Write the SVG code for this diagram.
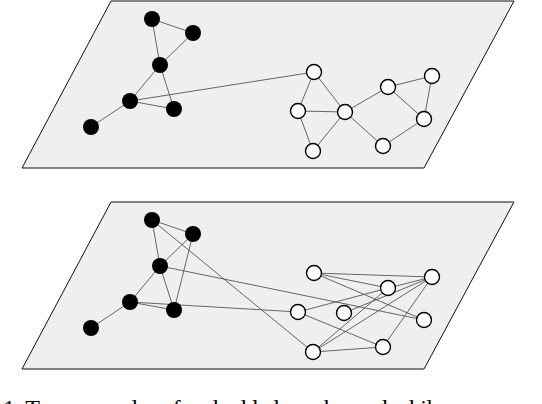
<svg xmlns="http://www.w3.org/2000/svg" width="542" height="404" viewBox="0 0 542 404">
<style>
.plane{fill:#efefef;stroke:#111;stroke-width:1}
.e{stroke:#555;stroke-width:0.9;fill:none}
.b{fill:#000}
.w{fill:#fff;stroke:#000;stroke-width:1.4}
.cap{font-family:"Liberation Serif","Times New Roman",serif;font-size:24px;fill:#000}
</style>
<g id="plane-top"><polygon class="plane" points="111,1 514,1 424,168 22,168"/></g>
<g id="plane-bottom"><polygon class="plane" points="111,202 514,202 424,369 22,369"/></g>
<g id="connectors">
<line class="e" x1="152" y1="19" x2="193" y2="33"/>
<line class="e" x1="152" y1="19" x2="160" y2="65"/>
<line class="e" x1="193" y1="33" x2="160" y2="65"/>
<line class="e" x1="160" y1="65" x2="130" y2="101"/>
<line class="e" x1="160" y1="65" x2="174" y2="109"/>
<line class="e" x1="130" y1="101" x2="174" y2="109"/>
<line class="e" x1="130" y1="101" x2="91" y2="127"/>
<line class="e" x1="130" y1="101" x2="314" y2="72"/>
<line class="e" x1="314" y1="72" x2="298" y2="111"/>
<line class="e" x1="314" y1="72" x2="345" y2="112"/>
<line class="e" x1="298" y1="111" x2="345" y2="112"/>
<line class="e" x1="298" y1="111" x2="313" y2="151"/>
<line class="e" x1="345" y1="112" x2="313" y2="151"/>
<line class="e" x1="345" y1="112" x2="388" y2="87"/>
<line class="e" x1="345" y1="112" x2="383" y2="146"/>
<line class="e" x1="388" y1="87" x2="432" y2="76"/>
<line class="e" x1="388" y1="87" x2="424" y2="119"/>
<line class="e" x1="432" y1="76" x2="424" y2="119"/>
<line class="e" x1="424" y1="119" x2="383" y2="146"/>
<line class="e" x1="152" y1="220" x2="193" y2="234"/>
<line class="e" x1="152" y1="220" x2="160" y2="266"/>
<line class="e" x1="193" y1="234" x2="160" y2="266"/>
<line class="e" x1="193" y1="234" x2="174" y2="310"/>
<line class="e" x1="160" y1="266" x2="130" y2="302"/>
<line class="e" x1="160" y1="266" x2="174" y2="310"/>
<line class="e" x1="130" y1="302" x2="174" y2="310"/>
<line class="e" x1="130" y1="302" x2="91" y2="328"/>
<line class="e" x1="152" y1="220" x2="313" y2="352"/>
<line class="e" x1="160" y1="266" x2="424" y2="320"/>
<line class="e" x1="130" y1="302" x2="298" y2="312"/>
<line class="e" x1="314" y1="273" x2="432" y2="277"/>
<line class="e" x1="314" y1="273" x2="388" y2="288"/>
<line class="e" x1="314" y1="273" x2="424" y2="320"/>
<line class="e" x1="298" y1="312" x2="388" y2="288"/>
<line class="e" x1="298" y1="312" x2="383" y2="347"/>
<line class="e" x1="344" y1="313" x2="432" y2="277"/>
<line class="e" x1="313" y1="352" x2="388" y2="288"/>
<line class="e" x1="313" y1="352" x2="432" y2="277"/>
<line class="e" x1="313" y1="352" x2="383" y2="347"/>
<line class="e" x1="388" y1="288" x2="432" y2="277"/>
<line class="e" x1="383" y1="347" x2="432" y2="277"/>
</g>
<g id="n-t1"><circle class="b" cx="152" cy="19" r="8"/></g>
<g id="n-t2"><circle class="b" cx="193" cy="33" r="8"/></g>
<g id="n-t3"><circle class="b" cx="160" cy="65" r="8"/></g>
<g id="n-t4"><circle class="b" cx="130" cy="101" r="8"/></g>
<g id="n-t5"><circle class="b" cx="174" cy="109" r="8"/></g>
<g id="n-t6"><circle class="b" cx="91" cy="127" r="8"/></g>
<g id="n-t7"><circle class="w" cx="314" cy="72" r="7.5"/></g>
<g id="n-t8"><circle class="w" cx="298" cy="111" r="7.5"/></g>
<g id="n-t9"><circle class="w" cx="345" cy="112" r="7.5"/></g>
<g id="n-t10"><circle class="w" cx="313" cy="151" r="7.5"/></g>
<g id="n-t11"><circle class="w" cx="388" cy="87" r="7.5"/></g>
<g id="n-t12"><circle class="w" cx="432" cy="76" r="7.5"/></g>
<g id="n-t13"><circle class="w" cx="424" cy="119" r="7.5"/></g>
<g id="n-t14"><circle class="w" cx="383" cy="146" r="7.5"/></g>
<g id="n-b1"><circle class="b" cx="152" cy="220" r="8"/></g>
<g id="n-b2"><circle class="b" cx="193" cy="234" r="8"/></g>
<g id="n-b3"><circle class="b" cx="160" cy="266" r="8"/></g>
<g id="n-b4"><circle class="b" cx="130" cy="302" r="8"/></g>
<g id="n-b5"><circle class="b" cx="174" cy="310" r="8"/></g>
<g id="n-b6"><circle class="b" cx="91" cy="328" r="8"/></g>
<g id="n-b7"><circle class="w" cx="314" cy="273" r="7.5"/></g>
<g id="n-b8"><circle class="w" cx="298" cy="312" r="7.5"/></g>
<g id="n-b9"><circle class="w" cx="344" cy="313" r="7.5"/></g>
<g id="n-b10"><circle class="w" cx="313" cy="352" r="7.5"/></g>
<g id="n-b11"><circle class="w" cx="388" cy="288" r="7.5"/></g>
<g id="n-b12"><circle class="w" cx="432" cy="277" r="7.5"/></g>
<g id="n-b13"><circle class="w" cx="424" cy="320" r="7.5"/></g>
<g id="n-b14"><circle class="w" cx="383" cy="347" r="7.5"/></g>
<g id="caption"><text class="cap" x="3" y="416" textLength="440" lengthAdjust="spacing">1:  Two examples of embedded graphs, and while</text></g>
</svg>
